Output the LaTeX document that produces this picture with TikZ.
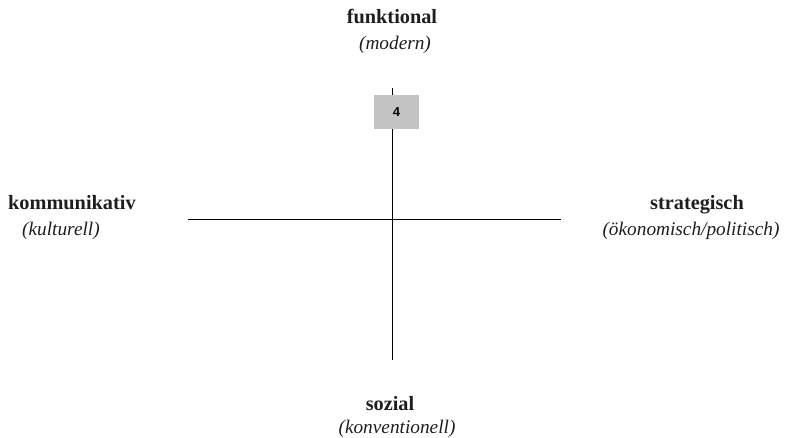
\documentclass[tikz,border=0pt]{standalone}
\usepackage{fontspec}
\setmainfont{Liberation Serif}
\newfontfamily\boxfont{Liberation Sans}
\definecolor{txt}{HTML}{1E1E1E}
\definecolor{boxgray}{HTML}{C3C3C3}
\begin{document}
\begin{tikzpicture}[x=1pt,y=-1pt,
  head/.style={inner sep=0pt,text=txt,font=\fontsize{20.3}{23}\selectfont\bfseries},
  sub/.style={inner sep=0pt,text=txt,font=\fontsize{19.3}{22}\selectfont\itshape},
  axis/.style={line width=0.9pt,black}]
\useasboundingbox (0,0) rectangle (785,438);
\coordinate (hl) at (188,219);
\coordinate (hr) at (561,219);
\coordinate (vt) at (392,88);
\coordinate (vb) at (392,360);
\draw[axis] (hl) -- (hr);
\draw[axis] (vt) -- (vb);
\node[fill=boxgray,minimum width=45pt,minimum height=34pt,inner sep=0pt,
  font=\boxfont\fontsize{13}{14}\selectfont\bfseries] (box) at (396.5,112) {4};
\node[head,anchor=base] (fun) at (392,24) {funktional};
\node[sub,anchor=base] (mod) at (395,50) {(modern)};
\node[head,anchor=base west] (kom) at (8,210) {kommunikativ};
\node[sub,anchor=base west] (kul) at (22,236) {(kulturell)};
\node[head,anchor=base] (str) at (697,210) {strategisch};
\node[sub,anchor=base] (oek) at (691,236) {(ökonomisch/politisch)};
\node[head,anchor=base] (soz) at (390,410) {sozial};
\node[sub,anchor=base] (kon) at (397,434) {(konventionell)};
\end{tikzpicture}
\end{document}
